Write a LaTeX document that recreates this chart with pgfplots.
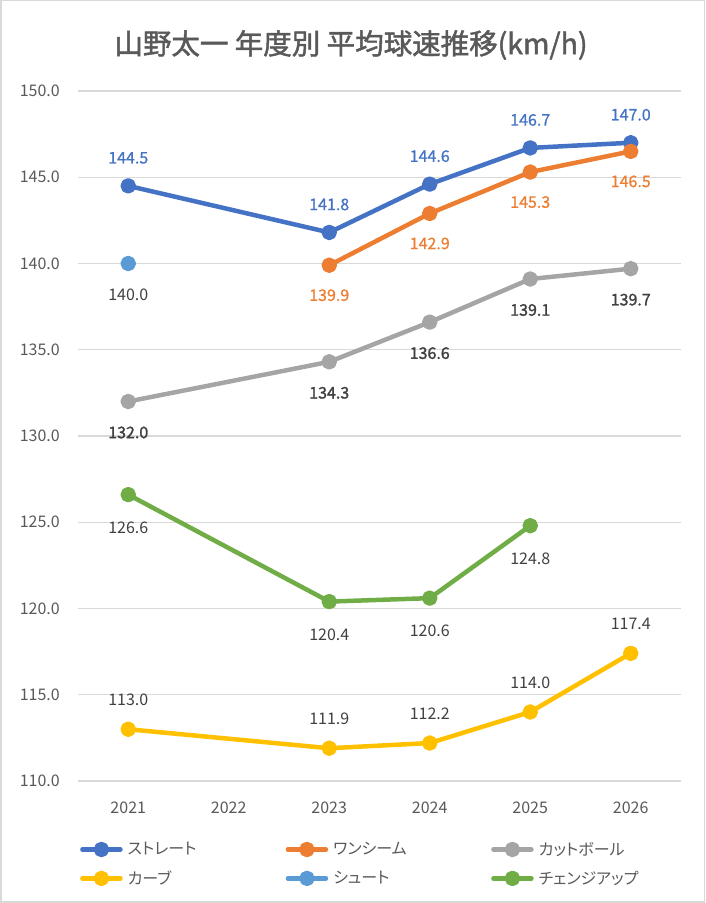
\documentclass[border=0pt]{standalone}
\usepackage{fontspec}
\setmainfont{Noto Sans CJK JP}
\newfontfamily\legendfont{Noto Sans CJK JP}[RawFeature=+palt]
\newfontfamily\medfont{Noto Sans CJK JP}[FakeBold=0.8]
\newfontfamily\semifont{Noto Sans CJK JP}[FakeBold=1.6]
\usepackage{pgfplots}
\pgfplotsset{compat=1.18}
\definecolor{cblue}{HTML}{4472C4}
\definecolor{corange}{HTML}{ED7D31}
\definecolor{cgray}{HTML}{A5A5A5}
\definecolor{cyellow}{HTML}{FFC000}
\definecolor{clblue}{HTML}{5B9BD5}
\definecolor{cgreen}{HTML}{70AD47}
\definecolor{tickgray}{HTML}{595959}
\definecolor{gridgray}{HTML}{D9D9D9}
\definecolor{labgray}{HTML}{404040}
\begin{document}
\begin{tikzpicture}
\path[use as bounding box] (0,0) rectangle (705pt,903pt);
\begin{axis}[
  at={(78pt,122pt)}, anchor=south west,
  scale only axis, width=603pt, height=690pt,
  xmin=-0.5, xmax=5.5, ymin=110, ymax=150,
  xtick={0,1,2,3,4,5},
  xticklabels={2021,2022,2023,2024,2025,2026},
  ytick={110,115,120,125,130,135,140,145,150},
  yticklabel={\pgfmathprintnumber[fixed,fixed zerofill,precision=1]{\tick}},
  /pgf/number format/assume math mode=true,
  axis line style={draw=none},
  major tick length=0pt,
  ymajorgrids, grid style={gridgray, line width=1.3pt},
  yticklabel style={font=\fontsize{16}{16}\selectfont, text=tickgray, anchor=east, inner sep=0pt, xshift=-18pt},
  xticklabel style={font=\fontsize{16}{16}\selectfont, text=tickgray, anchor=center, inner sep=0pt, yshift=-27pt},
  every axis plot/.append style={line width=4.5pt, line join=round, line cap=round, mark=*, mark size=5.5pt, mark options={draw=none}},
  nodes near coords={\pgfmathprintnumber[fixed,fixed zerofill,precision=1]{\pgfplotspointmeta}},
  nodes near coords style={font=\fontsize{16}{16}\selectfont, anchor=center, inner sep=0pt},
  legend columns=3,
  legend cell align=left,
  legend image code/.code={\draw[mark repeat=2,mark phase=2,#1] plot coordinates {(2pt,0pt) (21pt,0pt) (40pt,0pt)};},
  legend style={at={(axis description cs:0,0)}, anchor=north west, xshift=2pt, yshift=-61pt,
    draw=none, fill=none, inner sep=0pt, row sep=14pt,
    nodes={inner sep=0pt, text=tickgray, font=\legendfont\fontsize{16}{16}\selectfont},
    /tikz/every odd column/.style={column sep=5pt}},
  clip=false,
]
\addplot[cblue, nodes near coords style={text=cblue, font=\medfont\fontsize{16}{16}\selectfont, yshift=28pt}] coordinates {(0,144.5) (2,141.8) (3,144.6) (4,146.7) (5,147.0)};
\addlegendentry{\makebox[158pt][l]{ストレート}}
\addplot[corange, nodes near coords style={text=corange, font=\medfont\fontsize{16}{16}\selectfont, yshift=-30pt}] coordinates {(2,139.9) (3,142.9) (4,145.3) (5,146.5)};
\addlegendentry{\makebox[158pt][l]{ワンシーム}}
\addplot[cgray, nodes near coords style={text=labgray, font=\semifont\fontsize{16}{16}\selectfont, yshift=-31pt}] coordinates {(0,132.0) (2,134.3) (3,136.6) (4,139.1) (5,139.7)};
\addlegendentry{カットボール}
\addplot[cyellow, nodes near coords style={text=labgray, yshift=29pt}] coordinates {(0,113.0) (2,111.9) (3,112.2) (4,114.0) (5,117.4)};
\addlegendentry{\makebox[158pt][l]{カーブ}}
\addplot[clblue, nodes near coords style={text=labgray, yshift=-31pt}] coordinates {(0,140.0)};
\addlegendentry{\makebox[158pt][l]{シュート}}
\addplot[cgreen, nodes near coords style={text=labgray, yshift=-33pt}] coordinates {(0,126.6) (2,120.4) (3,120.6) (4,124.8)};
\addlegendentry{チェンジアップ}
\end{axis}
\node[font=\semifont\fontsize{28.5}{28.5}\selectfont, text=tickgray] at (351pt,858pt) {山野太一 年度別 平均球速推移(km/h)};
\draw[gridgray, line width=1.5pt] (0.75pt,0.75pt) rectangle (704.25pt,902.25pt);
\end{tikzpicture}
\end{document}
